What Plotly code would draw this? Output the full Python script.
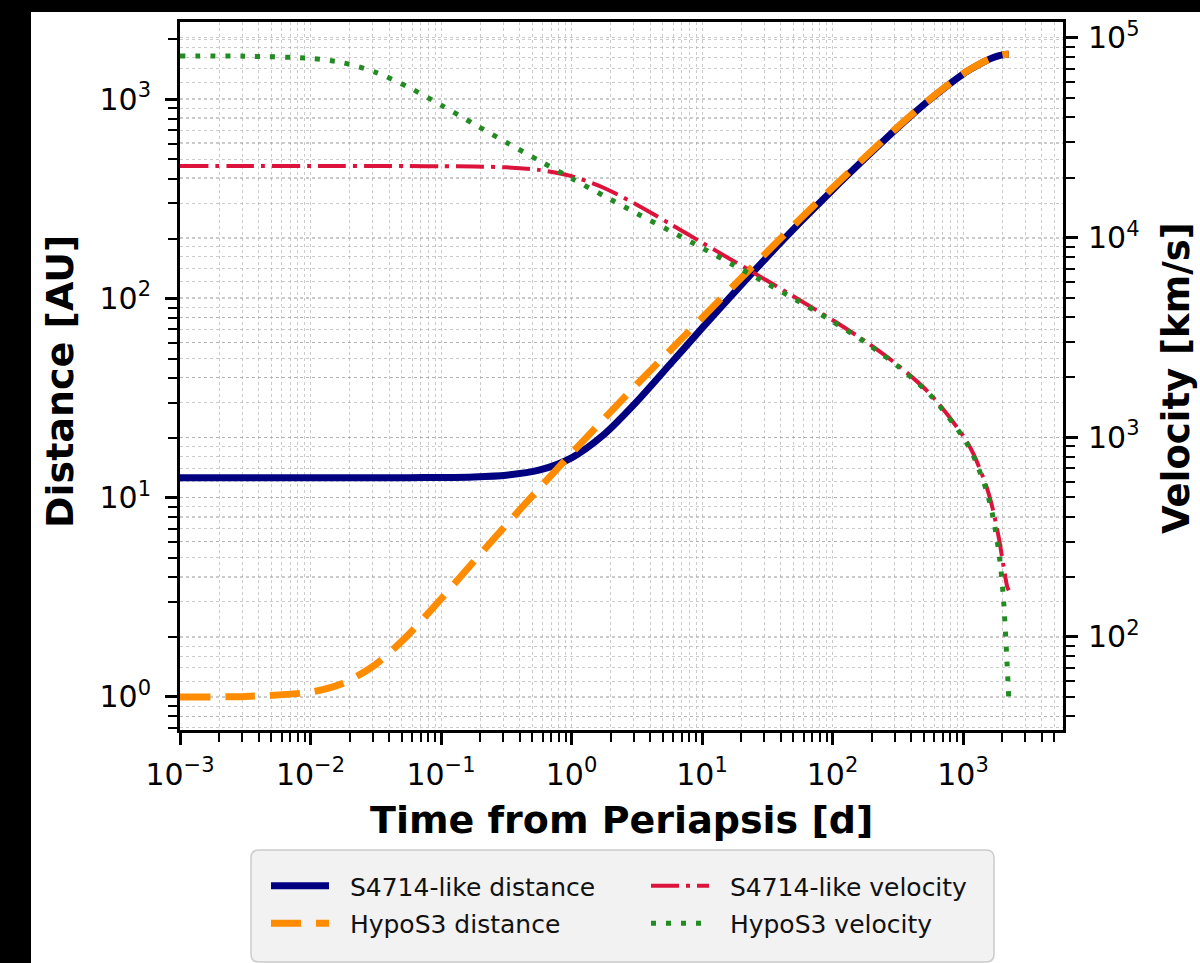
import plotly.graph_objects as go

# ---------------- data ----------------
t_days = [0.001, 0.003162, 0.01, 0.01778, 0.03162, 0.05623, 0.1, 0.1778, 0.3162, 0.5623,
          1, 1.778, 3.162, 5.623, 10, 17.78, 31.62, 56.23, 100, 177.8, 316.2, 562.3,
          1000, 1196, 1506, 1689, 1895, 2031, 2176, 2240]

s4714_distance_au = [12.6, 12.6, 12.6004, 12.601, 12.604, 12.612, 12.639, 12.722, 12.98, 13.75,
                     15.87, 20.81, 30.37, 46.37, 71.0, 107.8, 162.0, 240.3, 351, 505.6, 720.7, 1002,
                     1339.3, 1440.7, 1564.9, 1616.4, 1656.4, 1673.1, 1682.1, 1683.3]
hypos3_distance_au = [1.0006, 1.0061, 1.0586, 1.1722, 1.4583, 2.0547, 3.1045, 4.777, 7.318, 11.10,
                      16.70, 24.93, 37.02, 54.4, 79.8, 117.4, 171.6, 249.7, 360, 513.6, 727.4, 1007,
                      1342.6, 1443, 1566.3, 1617.4, 1657.2, 1673.7, 1682.7, 1683.95]
s4714_velocity_kms = [22825, 22825, 22824, 22824, 22822, 22814, 22790, 22715, 22486, 21842,
                      20318, 17718, 14624, 11778, 9447, 7580, 6077, 4860, 3866, 3030, 2297, 1643,
                      1019, 831, 571.6, 438.1, 305.2, 231.2, 179.6, 171.2]
hypos3_velocity_kms = [81276, 81053, 79016, 75087, 67315, 56700, 46113, 37156, 29997, 24325,
                       19802, 16167, 13218, 10847, 8885, 7239, 5884, 4750, 3801, 2992, 2273, 1626,
                       1000.5, 811, 545.5, 404.9, 256.6, 162.7, 73.2, 49.5]

series_names = ["S4714-like distance", "HypoS3 distance", "S4714-like velocity", "HypoS3 velocity"]

x_tick_vals = [1e-3, 1e-2, 1e-1, 1, 10, 100, 1000]
x_tick_text = ["10<sup>−3</sup>", "10<sup>−2</sup>", "10<sup>−1</sup>", "10<sup>0</sup>",
               "10<sup>1</sup>", "10<sup>2</sup>", "10<sup>3</sup>"]
y1_tick_vals = [1, 10, 100, 1000]
y1_tick_text = ["10<sup>0</sup>", "10<sup>1</sup>", "10<sup>2</sup>", "10<sup>3</sup>"]
y2_tick_vals = [100, 1000, 10000, 100000]
y2_tick_text = ["10<sup>2</sup>", "10<sup>3</sup>", "10<sup>4</sup>", "10<sup>5</sup>"]

# ---------------- styling / layout geometry ----------------
W, H = 1200, 963
PL, PR, PT, PB = 180, 1063, 22, 730          # plot-area pixel box
FONT = "DejaVu Sans"
GRID = "rgba(160,160,160,0.55)"
PAD = "\u00a0\u00a0"                          # gap between legend sample and label


def px(xp):
    return (xp - PL) / (PR - PL)


def py(yp):
    return (PB - yp) / (PB - PT)


def minor_vals(k0, k1):
    return [m * 10.0 ** k for k in range(k0, k1 + 1) for m in range(2, 10)]


fig = go.Figure()
fig.add_trace(go.Scatter(x=t_days, y=s4714_distance_au, mode="lines", name=PAD + series_names[0],
                         line=dict(color="#000080", width=7, shape="spline", smoothing=0.8),
                         yaxis="y", legend="legend", legendgroup="a"))
fig.add_trace(go.Scatter(x=t_days, y=hypos3_distance_au, mode="lines", name=PAD + series_names[1],
                         line=dict(color="#FF8C00", width=7, dash="30px,15px", shape="spline", smoothing=0.8),
                         yaxis="y", legend="legend", legendgroup="b"))
fig.add_trace(go.Scatter(x=t_days, y=s4714_velocity_kms, mode="lines", name=PAD + series_names[2],
                         line=dict(color="#DC143C", width=4, dash="28px,7px,4px,7px", shape="spline", smoothing=0.8),
                         yaxis="y2", legend="legend2", legendgroup="c"))
fig.add_trace(go.Scatter(x=t_days, y=hypos3_velocity_kms, mode="lines", name=PAD + series_names[3],
                         line=dict(color="#228B22", width=5, dash="5px,10px", shape="spline", smoothing=0.8),
                         yaxis="y2", legend="legend2", legendgroup="d"))

axis_common = dict(type="log", showline=True, linecolor="black", linewidth=3,
                   ticks="outside", ticklen=12, tickwidth=2.5, tickcolor="black",
                   showgrid=True, gridcolor=GRID, griddash="dot", gridwidth=1.3,
                   zeroline=False, tickmode="array",
                   tickfont=dict(family=FONT, size=30, color="black"))
minor_common = dict(tickmode="array", ticks="outside", ticklen=9, tickwidth=2, tickcolor="black",
                    showgrid=True, gridcolor=GRID, griddash="dot", gridwidth=1.3)

fig.update_layout(
    width=W, height=H,
    margin=dict(l=PL, r=W - PR, t=PT, b=H - PB, autoexpand=False),
    paper_bgcolor="white", plot_bgcolor="white",
    font=dict(family=FONT, color="black"),
    showlegend=True,
    xaxis=dict(axis_common, range=[-3, 3.766], tickvals=x_tick_vals, ticktext=x_tick_text,
               mirror=True, ticklabelstandoff=4,
               minor=dict(minor_common, tickvals=minor_vals(-3, 3))),
    yaxis=dict(axis_common, range=[-0.1657, 3.388], tickvals=y1_tick_vals, ticktext=y1_tick_text,
               ticklabelstandoff=8,
               minor=dict(minor_common, tickvals=minor_vals(-1, 3))),
    yaxis2=dict(axis_common, range=[1.534, 5.080], tickvals=y2_tick_vals, ticktext=y2_tick_text,
                overlaying="y", side="right", ticklabelstandoff=4,
                minor=dict(minor_common, tickvals=minor_vals(1, 5))),
    legend=dict(x=px(266), y=py(863), xanchor="left", yanchor="top", bgcolor="rgba(0,0,0,0)",
                borderwidth=0, itemwidth=58, tracegroupgap=2,
                font=dict(family=FONT, size=25, color="#111111")),
    legend2=dict(x=px(646), y=py(863), xanchor="left", yanchor="top", bgcolor="rgba(0,0,0,0)",
                 borderwidth=0, itemwidth=58, tracegroupgap=2,
                 font=dict(family=FONT, size=25, color="#111111")),
)

# black frame around the figure image, and the legend box
r = 8
bx0, bx1, by0, by1 = 251, 994, 850, 962
legend_path = (f"M {px(bx0 + r)},{py(by0)} L {px(bx1 - r)},{py(by0)} "
               f"Q {px(bx1)},{py(by0)} {px(bx1)},{py(by0 + r)} L {px(bx1)},{py(by1 - r)} "
               f"Q {px(bx1)},{py(by1)} {px(bx1 - r)},{py(by1)} L {px(bx0 + r)},{py(by1)} "
               f"Q {px(bx0)},{py(by1)} {px(bx0)},{py(by1 - r)} L {px(bx0)},{py(by0 + r)} "
               f"Q {px(bx0)},{py(by0)} {px(bx0 + r)},{py(by0)} Z")
fig.update_layout(shapes=[
    dict(type="rect", xref="paper", yref="paper", x0=px(0), x1=px(31), y0=py(H), y1=py(0),
         fillcolor="black", line=dict(width=0), layer="above"),
    dict(type="rect", xref="paper", yref="paper", x0=px(0), x1=px(W), y0=py(12), y1=py(0),
         fillcolor="black", line=dict(width=0), layer="above"),
    dict(type="path", xref="paper", yref="paper", path=legend_path,
         fillcolor="#f2f2f2", line=dict(color="#cccccc", width=1.5), layer="above"),
])

fig.update_layout(annotations=[
    dict(text="Time from Periapsis [d]", xref="paper", yref="paper", x=px(621.5), y=py(820),
         xanchor="center", yanchor="middle", showarrow=False,
         font=dict(family=FONT, size=38, color="black", weight="bold")),
    dict(text="Distance [AU]", xref="paper", yref="paper", x=px(60), y=py(382), textangle=-90,
         xanchor="center", yanchor="middle", showarrow=False,
         font=dict(family=FONT, size=38, color="black", weight="bold")),
    dict(text="Velocity [km/s]", xref="paper", yref="paper", x=px(1177), y=py(378), textangle=-90,
         xanchor="center", yanchor="middle", showarrow=False,
         font=dict(family=FONT, size=37, color="black", weight="bold")),
])

fig.write_html("out.html")
